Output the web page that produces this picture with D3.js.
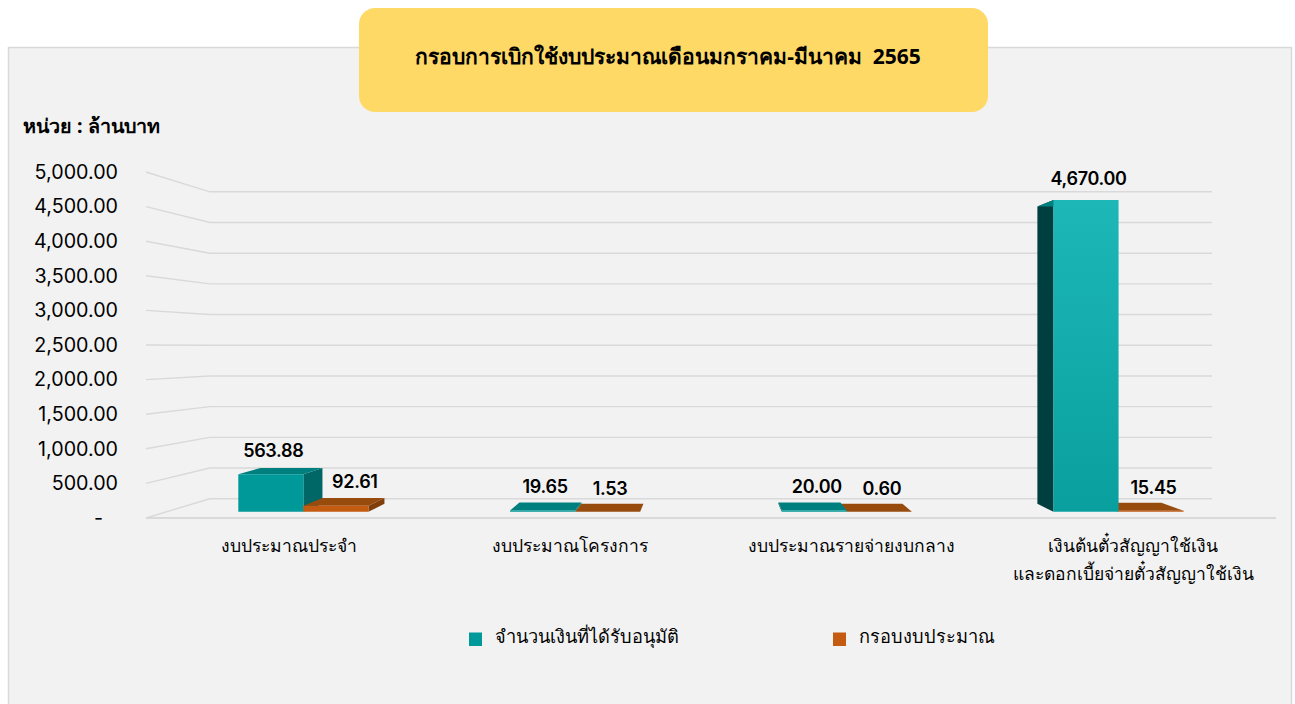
<!DOCTYPE html>
<html><head><meta charset="utf-8">
<script src="https://cdn.jsdelivr.net/npm/d3@7/dist/d3.min.js"></script>
<style>html,body{margin:0;padding:0;background:#fff;overflow:hidden}svg{display:block}
text{font-family:"Noto Sans","Open Sans",Inter,sans-serif;fill:#000;white-space:pre}</style></head><body>
<script>
const titleText = "กรอบการเบิกใช้งบประมาณเดือนมกราคม-มีนาคม  2565";
const unitText = "หน่วย : ล้านบาท";
const categories = [["งบประมาณประจำ"],["งบประมาณโครงการ"],["งบประมาณรายจ่ายงบกลาง"],["เงินต้นตั๋วสัญญาใช้เงิน","และดอกเบี้ยจ่ายตั๋วสัญญาใช้เงิน"]];
const seriesNames = ["จำนวนเงินที่ได้รับอนุมัติ","กรอบงบประมาณ"];
const approved = [563.88,19.65,20.00,4670.00];
const budget = [92.61,1.53,0.60,15.45];
const yTicks = [0,500,1000,1500,2000,2500,3000,3500,4000,4500,5000];

const W=1295,H=704;
const svg=d3.select("body").append("svg").attr("width",W).attr("height",H);
const defs=svg.append("defs");
const grad=defs.append("linearGradient").attr("id","tall").attr("x1",0).attr("y1",0).attr("x2",0).attr("y2",1);
grad.append("stop").attr("offset",0).attr("stop-color","#1db7b7");
grad.append("stop").attr("offset",1).attr("stop-color","#0a9f9f");

svg.append("rect").attr("x",8.5).attr("y",47.5).attr("width",1283).attr("height",670).attr("fill","#f2f2f2").attr("stroke","#d9d9d9").attr("stroke-width",1.5);
svg.append("rect").attr("x",359).attr("y",8).attr("width",629).attr("height",104).attr("rx",16).attr("fill","#ffd966");
svg.append("text").attr("x",668).attr("y",57).attr("dy","0.35em").attr("text-anchor","middle").attr("font-size",21).attr("font-weight",700).text(titleText);
svg.append("text").attr("x",23).attr("y",126).attr("dy","0.35em").attr("font-size",19.7).attr("font-weight",700).text(unitText);

// front plane scales + one-point perspective
const y=d3.scaleLinear().domain([0,5000]).range([518,172]);
const x=d3.scaleBand().domain(d3.range(categories.length)).range([148,1274]);
const vp=[710,341];
const project=(px,py,d)=>[px+d*(vp[0]-px),py+d*(vp[1]-py)];
const wallD=0.113, barFront=0.0347, barBack=0.08;
const barW=67.4;
const line=d3.line();

const gridG=svg.append("g").attr("fill","none").attr("stroke","#d9d9d9").attr("stroke-width",1.4);
gridG.selectAll("path").data(yTicks).join("path").attr("d",v=>line([
  [146,y(v)],project(146,y(v)+0.8,wallD),project(1276,y(v)+0.8,wallD)]));
gridG.append("path").attr("d",line([[146,518],[1276,518]])).attr("stroke-width",1.8);

const yAxis=d3.axisLeft(y).tickValues(yTicks).tickSize(0).tickPadding(28)
  .tickFormat(v=>v===0?"-":d3.format(",.2f")(v));
const ag=svg.append("g").attr("transform","translate(146,0)").call(yAxis);
ag.select(".domain").remove();
ag.selectAll("text").attr("font-size",19.7).style("font-family","Inter").style("fill","#000");
ag.selectAll(".tick").filter(v=>v===0).select("text").attr("x",-43);

function drawBar(x0,x1,v,c){
  const base=y(0),top=y(v);
  const fp=(a,b)=>project(a,b,barFront), bp=(a,b)=>project(a,b,barBack);
  const g=svg.append("g");
  const face=(pts,fill)=>g.append("path").attr("d",line(pts)+"Z").attr("fill",fill);
  const midX=fp((x0+x1)/2,base)[0];
  if(midX>vp[0]) face([fp(x0,base),bp(x0,base),bp(x0,top),fp(x0,top)],c.sideL);
  else face([fp(x1,base),bp(x1,base),bp(x1,top),fp(x1,top)],c.sideR);
  face([fp(x0,top),bp(x0,top),bp(x1,top),fp(x1,top)],c.top);
  face([fp(x0,base),fp(x0,top),fp(x1,top),fp(x1,base)],c.front(v));
  return {cx:midX,ty:fp(x0,top)[1]};
}
const teal={front:v=>v>1000?"url(#tall)":"#009999",top:"#007f7f",sideR:"#006666",sideL:"#003f3f"};
const orange={front:()=>"#c55a11",top:"#974b0c",sideR:"#7f3f0c",sideL:"#7f3f0c"};
const fmt=d3.format(",.2f");
const labels=[];
categories.forEach((_,i)=>{
  const c=x(i)+x.bandwidth()/2;
  // paint the bar farther from the vanishing point's side first
  const right=c>vp[0];
  let a,b;
  if(right){ b=drawBar(c,c+barW,budget[i],orange); a=drawBar(c-barW,c,approved[i],teal); }
  else { a=drawBar(c-barW,c,approved[i],teal); b=drawBar(c,c+barW,budget[i],orange); }
  labels.push({p:a,v:approved[i],dx:2.5,dy:approved[i]>1000?-21:-23.5});
  labels.push({p:b,v:budget[i],dx:budget[i]>50?19:2.5,dy:-23.5});
});
svg.append("g").selectAll("text").data(labels).join("text")
  .attr("x",d=>d.p.cx+d.dx).attr("y",d=>d.p.ty+d.dy).attr("dy","0.35em").attr("text-anchor","middle")
  .style("font-family","Inter").attr("font-size",18).attr("font-weight",600).attr("letter-spacing",-0.3).text(d=>fmt(d.v));

const cat=svg.append("g").selectAll("text").data(categories).join("text")
  .attr("text-anchor","middle").attr("font-size",17.5);
cat.selectAll("tspan").data((d,i)=>d.map((t,j)=>({t,j,i}))).join("tspan")
  .attr("x",d=>x(d.i)+x.bandwidth()/2).attr("y",d=>546+d.j*28).attr("dy","0.35em").text(d=>d.t);

const legX=d3.scaleOrdinal().domain([0,1]).range([469,833]);
const legC=["#009999","#c55a11"];
const lg=svg.append("g").selectAll("g").data(seriesNames).join("g").attr("transform",(d,i)=>`translate(${legX(i)},0)`);
lg.append("rect").attr("y",632.5).attr("width",13).attr("height",13.5).attr("fill",(d,i)=>legC[i]);
lg.append("text").attr("x",26).attr("y",637).attr("dy","0.35em").attr("font-size",18.2).text(d=>d);
</script></body></html>
